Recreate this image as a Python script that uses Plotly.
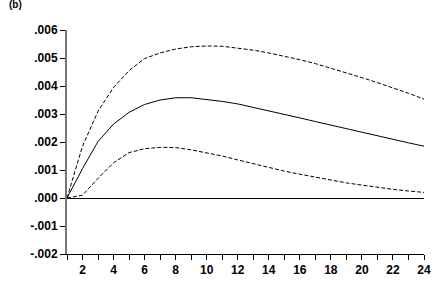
import plotly.graph_objects as go

periods = list(range(1, 25))
upper = [0.0, 1.85, 3.1, 3.95, 4.55, 4.98, 5.18, 5.32, 5.40, 5.43, 5.42, 5.36, 5.28, 5.18, 5.07, 4.94, 4.80, 4.64, 4.47, 4.30, 4.12, 3.94, 3.74, 3.53]
middle = [0.0, 1.05, 2.02, 2.64, 3.06, 3.34, 3.50, 3.58, 3.58, 3.52, 3.45, 3.36, 3.24, 3.11, 2.98, 2.86, 2.73, 2.60, 2.47, 2.34, 2.22, 2.09, 1.97, 1.85]
lower = [0.0, 0.1, 0.7, 1.26, 1.62, 1.76, 1.81, 1.80, 1.72, 1.62, 1.50, 1.36, 1.22, 1.08, 0.96, 0.85, 0.74, 0.64, 0.54, 0.46, 0.38, 0.31, 0.25, 0.20]
ytick_vals = [-0.002, -0.001, 0.0, 0.001, 0.002, 0.003, 0.004, 0.005, 0.006]
ytick_text = ["-.002", "-.001", ".000", ".001", ".002", ".003", ".004", ".005", ".006"]
xtick_text = [str(p) if p % 2 == 0 else "" for p in periods]

scale = 1e-3
fig = go.Figure()
fig.add_trace(go.Scatter(x=periods, y=[v * scale for v in upper], mode="lines",
                         line=dict(color="black", width=1, dash="4px,2px")))
fig.add_trace(go.Scatter(x=periods, y=[v * scale for v in middle], mode="lines",
                         line=dict(color="black", width=1)))
fig.add_trace(go.Scatter(x=periods, y=[v * scale for v in lower], mode="lines",
                         line=dict(color="black", width=1, dash="4px,2px")))

font = dict(family="Liberation Sans", size=12, color="black", weight="bold")
fig.update_layout(
    width=446, height=289,
    margin=dict(l=67, r=22, t=30, b=28),
    paper_bgcolor="white", plot_bgcolor="white",
    showlegend=False,
    font=font,
)
fig.add_annotation(text="(b)", xref="paper", yref="paper", x=-0.168, y=1.115,
                   xanchor="left", yanchor="middle", showarrow=False,
                   font=dict(family="Liberation Sans", size=10, color="black", weight="bold"))
fig.update_xaxes(range=[1, 24], tickvals=periods, ticktext=xtick_text,
                 ticks="outside", ticklen=5, tickcolor="black", tickwidth=1,
                 showline=True, linecolor="black", linewidth=1,
                 showgrid=False, zeroline=False, tickfont=font)
fig.update_yaxes(range=[-0.002, 0.006], tickvals=ytick_vals, ticktext=ytick_text,
                 ticks="outside", ticklen=5, tickcolor="black", tickwidth=1,
                 showline=True, linecolor="#777777", linewidth=2,
                 showgrid=False, zeroline=True, zerolinecolor="black", zerolinewidth=1,
                 tickfont=font)
fig.write_html("out.html")
